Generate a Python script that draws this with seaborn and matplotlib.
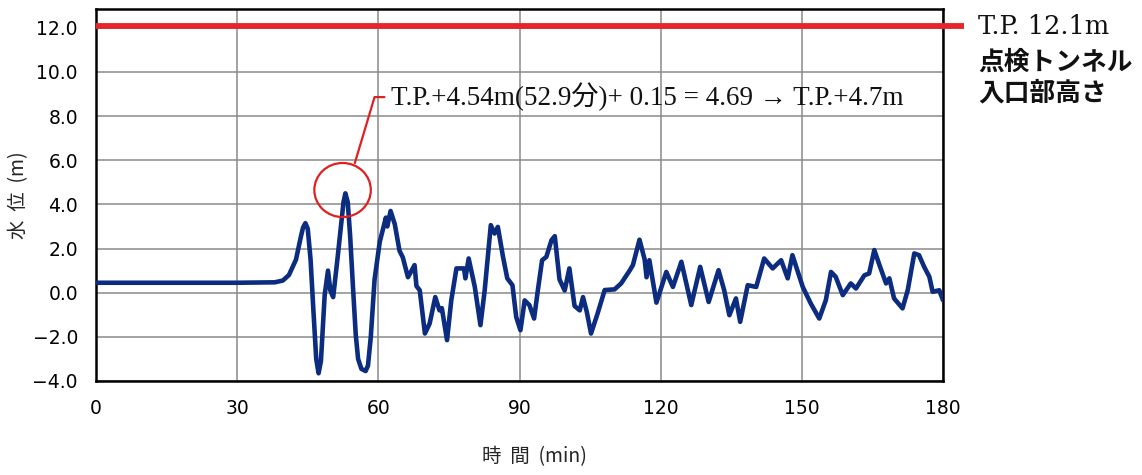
import matplotlib
matplotlib.use("Agg")
import matplotlib.pyplot as plt
from matplotlib.patches import Ellipse
import seaborn as sns
import pandas as pd

# ---- data ----
time_min = [0, 30, 38, 39.7, 41, 42.5, 43.5, 44.0, 44.5, 45.0, 45.6, 46.2, 46.8, 47.3, 47.8, 48.6,
            49.3, 49.8, 50.4, 51.3, 52.2, 52.6, 53.0, 53.5, 54.0, 54.6, 55.2, 55.7, 56.4, 57.3,
            57.8, 58.4, 59.2, 60.3, 61.6, 61.9, 62.6, 63.5, 64.5, 65.2, 66.3, 67.7, 68.1, 68.8,
            69.9, 70.9, 72.1, 73.0, 73.5, 74.6, 75.5, 76.6, 78.2, 78.5, 79.2, 80.5, 81.7, 82.6,
            83.9, 84.7, 85.4, 86.5, 87.4, 88.5, 89.3, 90.2, 91.1, 92.1, 93.1, 93.9, 94.8, 95.7,
            96.8, 97.5, 98.5, 99.6, 100.6, 101.7, 102.8, 103.5, 104.3, 105.2, 106.6, 108.1,
            110.2, 111.6, 113.4, 114.1, 115.5, 116.6, 117.0, 117.6, 119.1, 121.2, 122.6, 124.4,
            126.5, 128.4, 130.2, 132.3, 133.5, 134.6, 136.0, 136.9, 138.5, 140.3, 142.0, 143.8,
            145.6, 147.0, 148.0, 150.2, 151.9, 153.7, 155.1, 156.2, 157.2, 158.7, 160.4, 161.5,
            163.3, 164.3, 165.4, 166.5, 167.9, 168.6, 169.6, 171.4, 172.5, 173.9, 174.9, 176.0,
            177.1, 177.8, 179.2, 180.0]
water_level = [0.45, 0.45, 0.47, 0.55, 0.8, 1.5, 2.5, 2.95, 3.15, 2.9, 1.5, -0.8, -3.0, -3.65,
               -3.1, -0.1, 1.0, 0.1, -0.2, 1.5, 3.3, 4.1, 4.5, 4.1, 2.6, 0.3, -1.9, -3.0, -3.45,
               -3.55, -3.3, -2.0, 0.6, 2.3, 3.4, 3.0, 3.7, 3.1, 1.9, 1.6, 0.7, 1.25, 0.3, 0.11,
               -1.85, -1.4, -0.2, -0.8, -0.7, -2.15, -0.35, 1.1, 1.1, 0.65, 1.55, 0.26, -1.47,
               0.1, 3.06, 2.68, 2.98, 1.62, 0.65, 0.34, -1.1, -1.7, -0.35, -0.56, -1.17, 0.11,
               1.47, 1.62, 2.38, 2.56, 0.6, 0.1, 1.1, -0.6, -0.8, -0.2, -0.87, -1.85, -0.94,
               0.12, 0.15, 0.42, 1.0, 1.25, 2.4, 1.5, 0.7, 1.47, -0.45, 0.94, 0.26, 1.4,
               -0.56, 1.17, -0.42, 1.02, 0.11, -1.02, -0.26, -1.32, 0.34, 0.26, 1.55, 1.1,
               1.47, 0.65, 1.7, 0.26, -0.49, -1.17, -0.34, 0.94, 0.72, -0.11, 0.42, 0.19,
               0.79, 0.87, 1.93, 1.25, 0.42, 0.65, -0.26, -0.71, 0.11, 1.78, 1.7, 1.17,
               0.72, 0.04, 0.11, -0.34]
tunnel_level = 12.1
x_ticks = [0, 30, 60, 90, 120, 150, 180]
y_ticks = [-4, -2, 0, 2, 4, 6, 8, 10, 12]
annotation_text = "T.P.+4.54m(52.9分)+ 0.15 = 4.69 → T.P.+4.7m"
right_label_1 = "T.P. 12.1m"
right_label_2 = "点検トンネル"
right_label_3 = "入口部高さ"
x_label = "時  間  (min)"
y_label = "水  位  (m)"

df = pd.DataFrame({"time": time_min, "level": water_level})

sns.set_theme(style="white")
plt.rcParams["font.family"] = ["DejaVu Sans", "Noto Sans CJK JP"]
plt.rcParams["axes.unicode_minus"] = True

fig = plt.figure(figsize=(11.42, 4.75), dpi=100)
ax = fig.add_axes([96 / 1142, 1 - 381 / 475, (943 - 96) / 1142, (381 - 9) / 475])

ax.set_xlim(0, 180)
ax.set_ylim(-4, 12.85)
ax.set_xticks(x_ticks)
ax.set_yticks(y_ticks)
ax.set_xticklabels([f"{v}" for v in x_ticks], fontsize=13.5)
ax.set_yticklabels([f"{v:.1f}".replace("-", "\u2212") for v in y_ticks], fontsize=13.5)
ax.tick_params(axis="both", length=0, pad=13, colors="black")
ax.grid(True, color="#8a8a8a", linewidth=1.1)
for sp in ax.spines.values():
    sp.set_color("black")
    sp.set_linewidth(1.8)

# tunnel entrance level
ax.plot([0, 184.5], [tunnel_level, tunnel_level], color="#e62429", linewidth=4.2,
        clip_on=False, zorder=3, solid_capstyle="butt")

sns.lineplot(data=df, x="time", y="level", ax=ax, color="#0c2c80", linewidth=3.3,
             estimator=None, sort=False, zorder=4)
for ln in ax.lines:
    ln.set_solid_joinstyle("round")

ax.set_xlabel(x_label, fontsize=14, family=["Noto Sans CJK JP", "DejaVu Sans"])
ax.set_ylabel(y_label, fontsize=14, family=["Noto Sans CJK JP", "DejaVu Sans"])
ax.xaxis.set_label_coords((534 - 96) / 847, (381 - 446) / 372)
ax.yaxis.set_label_coords((29 - 96) / 847, 0.5)

# red circle and leader line
circ = Ellipse((52.4, 4.65), width=12.0, height=2.45, fill=False, edgecolor="#e02020",
               linewidth=1.6, zorder=5)
ax.add_patch(circ)
ax.plot([55.0, 59.2, 61.3], [5.87, 8.86, 8.86], color="#e02020", linewidth=1.6, zorder=5)
ax.text(62.6, 8.86, annotation_text, fontsize=19.5, va="center", ha="left",
        family=["Liberation Serif", "Noto Sans CJK JP", "DejaVu Serif"], color="#111111",
        zorder=6)

# right-hand labels
fig.text(978 / 1142, 1 - 26 / 475, right_label_1, fontsize=18.5, va="center", ha="left",
         family=["DejaVu Serif"], color="#111111")
fig.text(978 / 1142, 1 - 62 / 475, right_label_2, fontsize=18.5, va="center", ha="left",
         family=["Noto Sans CJK JP"], fontweight="bold", color="#111111")
fig.text(978 / 1142, 1 - 93 / 475, right_label_3, fontsize=18.5, va="center", ha="left",
         family=["Noto Sans CJK JP"], fontweight="bold", color="#111111")

fig.savefig("out.png", dpi=100)
